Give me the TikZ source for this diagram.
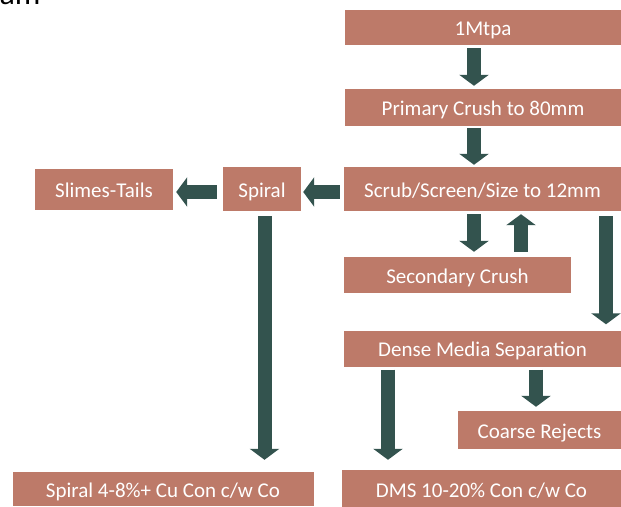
\documentclass[tikz,border=0pt]{standalone}
\usepackage{fontspec}
\setmainfont{Carlito}
\usetikzlibrary{arrows.meta}
\definecolor{boxred}{RGB}{189,122,105}
\definecolor{arrowgreen}{RGB}{51,83,78}
\begin{document}
\begin{tikzpicture}[x=1pt,y=-1pt,
  stage/.style={fill=boxred,text=white,inner sep=0pt,text height=17pt,text depth=1pt,font=\fontsize{21}{24}\selectfont},
  flow/.style={draw=arrowgreen,line width=14pt,-{Triangle[width=29pt,length=11pt]}}]
\useasboundingbox (0,0) rectangle (621,506);

\node[anchor=base east,font=\fontsize{32}{38}\selectfont] (title) at (44,5) {ram};

\node[stage,minimum width=276pt,minimum height=35pt] (feed) at (483,27.5) {1Mtpa};
\node[stage,minimum width=276pt,minimum height=37pt] (primary) at (483,107.5) {Primary Crush to 80mm};
\node[stage,minimum width=277pt,minimum height=44pt] (scrub) at (482.5,189) {Scrub/Screen/Size to 12mm};
\node[stage,minimum width=78pt,minimum height=44pt] (spiral) at (262,189) {Spiral};
\node[stage,minimum width=138pt,minimum height=41pt] (slimes) at (104,189.5) {Slimes-Tails};
\node[stage,minimum width=227pt,minimum height=36pt] (second) at (457.5,275) {Secondary Crush};
\node[stage,minimum width=277pt,minimum height=36pt] (dms) at (482.5,348.5) {Dense Media Separation};
\node[stage,minimum width=163pt,minimum height=38pt] (coarse) at (539.5,430) {Coarse Rejects};
\node[stage,minimum width=301pt,minimum height=34pt] (spcon) at (163,489) {Spiral 4-8\%+ Cu Con c/w Co};
\node[stage,minimum width=279pt,minimum height=39pt] (dmscon) at (481.5,489.5) {DMS 10-20\% Con c/w Co};

\coordinate (f1) at ([xshift=-9pt]feed.south);
\coordinate (p1) at ([xshift=-9pt]primary.south);
\coordinate (s1) at ([xshift=-8.5pt]scrub.south);
\coordinate (s2) at ([xshift=38.5pt]scrub.south);
\coordinate (s3) at ([xshift=123.5pt]scrub.south);
\coordinate (s4) at ([yshift=-3pt]scrub.west);
\coordinate (sp1) at ([yshift=-3pt]spiral.west);
\coordinate (sp2) at ([xshift=2.5pt]spiral.south);
\coordinate (d1) at ([xshift=53.5pt]dms.south);
\coordinate (d2) at ([xshift=-94.5pt]dms.south);

\draw[flow,shorten <=3pt,shorten >=3pt] (f1) -- (f1 |- primary.north);
\draw[flow,shorten <=2pt,shorten >=2pt] (p1) -- (p1 |- scrub.north);
\draw[flow,shorten <=4pt,shorten >=2pt] (s4) -- (s4 -| spiral.east);
\draw[flow,shorten <=6pt,shorten >=3pt] (sp1) -- (sp1 -| slimes.east);
\draw[flow,shorten <=5pt,shorten >=12pt] (sp2) -- (sp2 |- spcon.north);
\draw[flow,shorten <=3pt,shorten >=5pt] (s1) -- (s1 |- second.north);
\draw[flow,shorten <=5pt,shorten >=3pt] (s2 |- second.north) -- (s2);
\draw[flow,shorten <=5pt,shorten >=6pt] (s3) -- (s3 |- dms.north);
\draw[flow,shorten <=3pt,shorten >=4pt] (d1) -- (d1 |- coarse.north);
\draw[flow,shorten <=3pt,shorten >=10pt] (d2) -- (d2 |- dmscon.north);
\end{tikzpicture}
\end{document}
